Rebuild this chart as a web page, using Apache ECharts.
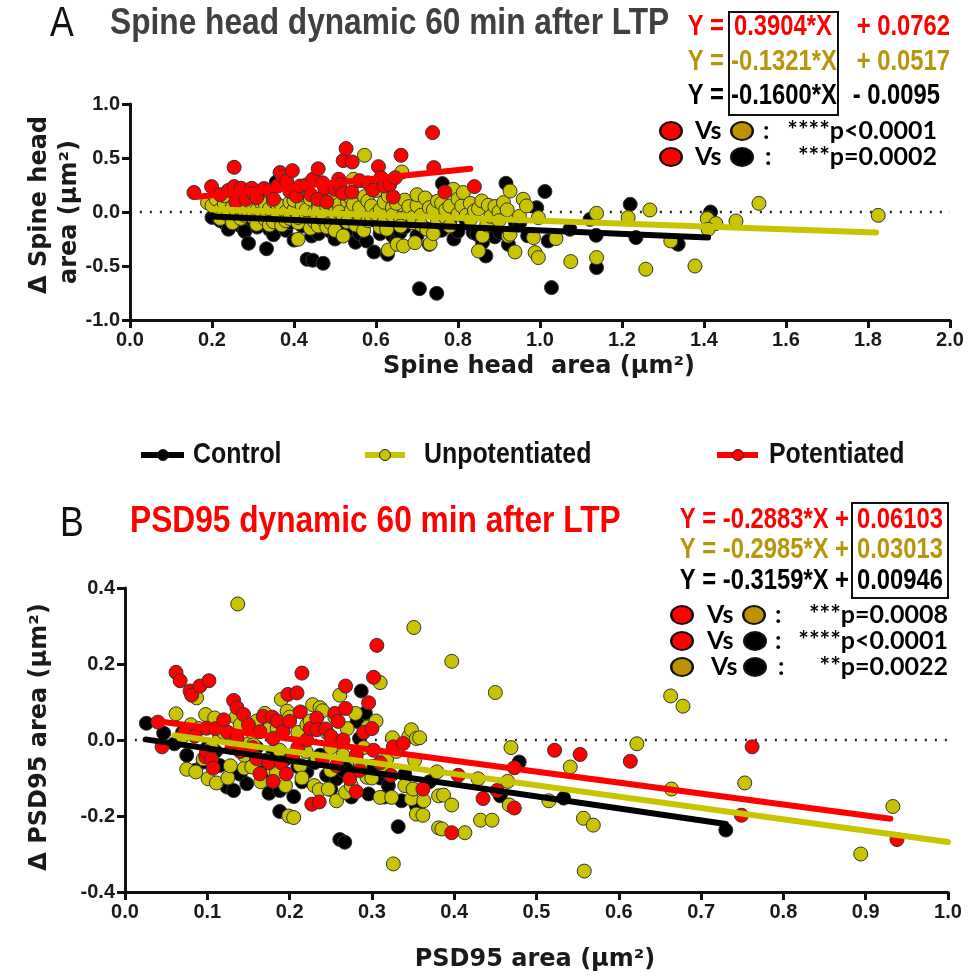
<!DOCTYPE html>
<html><head><meta charset="utf-8">
<script src="https://cdn.jsdelivr.net/npm/echarts@6/dist/echarts.min.js"></script>
<style>html,body{margin:0;padding:0;background:#fff}#c{width:970px;height:978px}</style>
</head><body><div id="c"></div>
<script>
// ---------- Panel A : Spine head (x = area µm², y = Δ area µm²) ----------
const spineControl = [[0.2,-0.05],[0.21,-0.02],[0.22,-0.08],[0.23,-0.1],[0.24,-0.16],[0.25,-0.06],[0.26,-0.02],[0.27,-0.13],[0.28,-0.18],[0.289,-0.29],[0.3,-0.08],[0.31,-0.14],[0.32,-0.04],[0.333,-0.34],[0.34,-0.16],[0.35,-0.21],[0.357,0.278],[0.37,-0.07],[0.38,-0.17],[0.39,-0.1],[0.4,-0.26],[0.41,-0.03],[0.42,-0.13],[0.432,-0.438],[0.443,-0.222],[0.446,-0.447],[0.46,-0.2],[0.471,-0.475],[0.48,-0.12],[0.488,-0.176],[0.5,-0.05],[0.5,-0.25],[0.52,-0.1],[0.53,-0.18],[0.54,-0.15],[0.55,-0.28],[0.56,-0.2],[0.57,-0.1],[0.577,-0.268],[0.595,-0.37],[0.6,-0.08],[0.61,-0.2],[0.62,-0.12],[0.628,-0.392],[0.64,-0.22],[0.65,-0.27],[0.659,-0.19],[0.67,-0.14],[0.68,-0.06],[0.7,-0.22],[0.706,-0.71],[0.712,0.118],[0.72,-0.15],[0.73,-0.3],[0.74,0.087],[0.748,-0.753],[0.76,-0.17],[0.762,0.263],[0.78,-0.1],[0.79,-0.25],[0.8,-0.18],[0.81,0.05],[0.82,-0.08],[0.837,-0.19],[0.846,-0.206],[0.86,-0.28],[0.868,-0.407],[0.88,-0.12],[0.89,-0.23],[0.902,-0.19],[0.917,0.266],[0.923,-0.3],[0.94,-0.1],[0.951,-0.098],[0.97,-0.22],[0.992,0.04],[1.012,0.19],[1.02,-0.268],[1.028,-0.70],[1.073,-0.16],[1.122,-0.068],[1.137,-0.216],[1.138,-0.515],[1.22,0.071],[1.234,-0.237],[1.337,-0.299],[1.416,0.0],[1.41,-0.05]];
const spineUnpot = [[0.189,0.087],[0.2,0.06],[0.21,0.12],[0.22,0.02],[0.22,-0.06],[0.23,0.08],[0.23,0.15],[0.24,-0.03],[0.25,0.05],[0.25,-0.1],[0.26,0.11],[0.26,0.0],[0.27,-0.06],[0.27,0.03],[0.28,0.08],[0.28,-0.03],[0.29,-0.02],[0.29,0.13],[0.3,0.05],[0.3,-0.05],[0.309,-0.114],[0.31,0.12],[0.31,0.02],[0.32,0.0],[0.32,0.09],[0.33,-0.07],[0.33,0.07],[0.34,0.03],[0.34,-0.12],[0.35,-0.09],[0.35,0.1],[0.36,-0.03],[0.36,0.07],[0.37,0.05],[0.37,-0.12],[0.38,0.0],[0.38,-0.08],[0.39,0.09],[0.39,-0.06],[0.4,0.02],[0.4,0.11],[0.41,-0.253],[0.41,-0.1],[0.41,-0.05],[0.42,0.06],[0.42,0.16],[0.43,-0.04],[0.43,0.02],[0.44,0.12],[0.44,-0.15],[0.45,0.0],[0.45,-0.09],[0.459,-0.13],[0.46,0.08],[0.46,0.03],[0.47,-0.07],[0.47,0.13],[0.48,0.04],[0.48,-0.14],[0.49,-0.1],[0.49,0.14],[0.5,-0.02],[0.5,0.05],[0.5,-0.17],[0.51,0.07],[0.51,0.0],[0.52,-0.222],[0.52,-0.05],[0.53,0.1],[0.53,-0.09],[0.54,0.02],[0.54,0.12],[0.545,0.303],[0.545,0.071],[0.55,-0.12],[0.56,-0.03],[0.56,0.04],[0.57,-0.17],[0.572,0.525],[0.572,0.142],[0.58,-0.08],[0.58,0.1],[0.589,0.056],[0.59,-0.06],[0.6,-0.02],[0.6,0.2],[0.61,-0.14],[0.61,0.02],[0.62,-0.09],[0.626,-0.16],[0.62,0.09],[0.63,-0.352],[0.63,0.15],[0.64,0.04],[0.64,-0.03],[0.65,0.08],[0.652,-0.299],[0.663,0.37],[0.66,-0.06],[0.66,-0.13],[0.667,-0.315],[0.67,0.11],[0.68,0.0],[0.68,0.05],[0.69,-0.1],[0.69,-0.05],[0.695,-0.284],[0.7,0.06],[0.7,0.16],[0.71,-0.03],[0.71,-0.12],[0.724,-0.16],[0.72,0.13],[0.732,-0.293],[0.73,0.04],[0.74,0.02],[0.74,-0.2],[0.75,-0.09],[0.75,0.1],[0.76,0.08],[0.77,-0.05],[0.77,0.02],[0.78,0.056],[0.78,-0.13],[0.789,0.21],[0.8,-0.02],[0.8,0.12],[0.809,0.056],[0.813,0.18],[0.82,-0.03],[0.83,-0.07],[0.83,0.08],[0.84,0.01],[0.85,-0.361],[0.85,0.03],[0.858,0.102],[0.86,-0.222],[0.87,-0.12],[0.874,0.062],[0.88,-0.04],[0.89,0.05],[0.9,0.0],[0.9,-0.08],[0.911,0.087],[0.92,0.02],[0.923,-0.222],[0.927,0.194],[0.927,-0.206],[0.939,-0.37],[0.95,-0.04],[0.959,0.118],[0.967,0.056],[0.984,-0.237],[0.988,-0.376],[0.996,-0.422],[0.996,-0.052],[1.039,-0.246],[1.075,-0.459],[1.138,-0.012],[1.138,-0.422],[1.215,-0.052],[1.268,0.019],[1.258,-0.53],[1.319,-0.268],[1.378,-0.50],[1.408,-0.061],[1.429,-0.107],[1.41,-0.16],[1.478,-0.083],[1.534,0.08],[1.825,-0.031]];
const spinePot = [[0.156,0.18],[0.199,0.235],[0.22,0.16],[0.24,0.2],[0.254,0.414],[0.254,0.235],[0.258,0.093],[0.271,0.22],[0.283,0.118],[0.297,0.22],[0.3,0.17],[0.309,0.133],[0.327,0.217],[0.34,0.2],[0.35,0.118],[0.36,0.24],[0.366,0.365],[0.372,0.328],[0.382,0.287],[0.39,0.19],[0.396,0.383],[0.406,0.148],[0.415,0.24],[0.43,0.25],[0.441,0.161],[0.446,0.303],[0.459,0.40],[0.458,0.118],[0.47,0.27],[0.475,0.22],[0.48,0.093],[0.5,0.21],[0.509,0.303],[0.512,0.256],[0.519,0.173],[0.52,0.476],[0.527,0.587],[0.541,0.185],[0.542,0.463],[0.56,0.29],[0.58,0.27],[0.592,0.204],[0.606,0.42],[0.612,0.318],[0.62,0.24],[0.634,0.256],[0.642,0.139],[0.647,0.318],[0.661,0.525],[0.738,0.735],[0.741,0.411],[0.768,0.185],[0.84,0.235]];
const spineSlopes = [-0.1600, -0.1321, 0.3904];      // control, unpotentiated, potentiated
const spineIntercepts = [-0.0095, 0.0517, 0.0762];
const spineFitRanges = [[0.2,1.41],[0.2,1.82],[0.16,0.83]];
const spineXTicks = ['0.0','0.2','0.4','0.6','0.8','1.0','1.2','1.4','1.6','1.8','2.0'];
const spineYTicks = ['-1.0','-0.5','0.0','0.5','1.0'];

// ---------- Panel B : PSD95 ----------
const psdControl = [[0.026,0.044],[0.047,0.018],[0.06,-0.01],[0.07,0.02],[0.075,-0.04],[0.085,-0.08],[0.095,-0.058],[0.1,-0.02],[0.11,-0.03],[0.115,-0.067],[0.124,-0.124],[0.132,-0.133],[0.14,-0.09],[0.148,-0.115],[0.156,-0.049],[0.16,-0.02],[0.168,-0.084],[0.175,-0.14],[0.18,-0.031],[0.188,-0.188],[0.188,-0.133],[0.195,-0.05],[0.205,-0.149],[0.21,-0.07],[0.215,-0.11],[0.221,-0.084],[0.23,-0.06],[0.237,-0.04],[0.245,-0.093],[0.25,-0.13],[0.257,-0.102],[0.261,-0.262],[0.265,-0.08],[0.267,-0.269],[0.27,-0.06],[0.275,-0.15],[0.282,0.049],[0.285,0.004],[0.287,0.129],[0.292,0.071],[0.296,-0.142],[0.3,-0.07],[0.31,-0.1],[0.315,-0.15],[0.32,-0.12],[0.332,-0.228],[0.336,-0.16],[0.34,-0.09],[0.354,-0.173],[0.37,-0.11],[0.456,-0.147],[0.479,-0.058],[0.533,-0.153],[0.73,-0.237]];
const psdUnpot = [[0.062,0.069],[0.07,0.01],[0.075,-0.077],[0.08,0.04],[0.086,-0.084],[0.087,0.111],[0.09,0.03],[0.095,-0.05],[0.098,0.067],[0.101,-0.102],[0.105,-0.02],[0.109,0.058],[0.111,-0.113],[0.115,0.01],[0.12,0.02],[0.125,-0.1],[0.128,-0.068],[0.135,0.06],[0.137,0.358],[0.14,0.04],[0.145,-0.074],[0.145,-0.04],[0.15,-0.01],[0.154,-0.071],[0.155,0.02],[0.156,-0.013],[0.16,0.05],[0.165,-0.11],[0.17,0.07],[0.172,-0.053],[0.175,0.03],[0.18,-0.08],[0.184,-0.086],[0.185,0.03],[0.188,-0.027],[0.19,0.107],[0.195,-0.12],[0.197,0.076],[0.199,-0.2],[0.2,0.06],[0.205,-0.204],[0.21,0.02],[0.213,-0.067],[0.215,-0.1],[0.22,-0.03],[0.221,0.04],[0.225,0.05],[0.228,0.093],[0.23,-0.12],[0.233,-0.049],[0.236,-0.131],[0.237,0.085],[0.24,0.077],[0.245,0.02],[0.247,-0.129],[0.25,-0.02],[0.25,-0.08],[0.255,0.06],[0.257,-0.16],[0.261,0.118],[0.261,-0.004],[0.265,-0.04],[0.268,-0.138],[0.27,0.03],[0.275,-0.12],[0.28,-0.05],[0.28,0.07],[0.286,-0.067],[0.29,-0.02],[0.294,-0.098],[0.295,0.034],[0.3,-0.1],[0.305,0.05],[0.31,0.151],[0.31,-0.151],[0.315,-0.08],[0.318,-0.049],[0.324,-0.151],[0.325,0.006],[0.326,-0.326],[0.33,-0.03],[0.34,-0.12],[0.345,0.01],[0.348,0.027],[0.348,-0.155],[0.35,-0.129],[0.351,0.296],[0.352,-0.053],[0.354,0.004],[0.354,-0.195],[0.358,0.006],[0.362,-0.198],[0.363,-0.16],[0.379,-0.084],[0.381,-0.231],[0.381,-0.147],[0.385,-0.234],[0.387,-0.145],[0.397,0.207],[0.397,-0.171],[0.413,-0.244],[0.429,-0.102],[0.432,-0.211],[0.446,-0.211],[0.45,0.125],[0.465,-0.109],[0.467,-0.171],[0.469,-0.02],[0.515,-0.16],[0.541,-0.071],[0.557,-0.206],[0.558,-0.345],[0.569,-0.224],[0.622,-0.01],[0.663,0.116],[0.664,-0.129],[0.678,0.089],[0.753,-0.113],[0.894,-0.30],[0.933,-0.175]];
const psdPot = [[0.04,0.047],[0.045,-0.018],[0.062,0.178],[0.067,0.156],[0.073,0.022],[0.079,0.129],[0.081,0.118],[0.085,0.01],[0.091,0.142],[0.098,-0.044],[0.099,0.031],[0.099,-0.031],[0.102,0.156],[0.105,-0.05],[0.107,-0.074],[0.11,0.03],[0.12,0.053],[0.125,0.02],[0.13,-0.02],[0.132,0.104],[0.136,0.085],[0.136,0.004],[0.14,-0.03],[0.144,0.067],[0.15,0.04],[0.155,-0.02],[0.16,-0.049],[0.164,0.022],[0.164,-0.089],[0.168,0.062],[0.175,-0.06],[0.179,0.06],[0.18,0.004],[0.18,-0.109],[0.185,0.05],[0.19,-0.06],[0.192,0.022],[0.196,-0.089],[0.198,0.12],[0.2,0.049],[0.204,-0.04],[0.209,0.124],[0.21,-0.02],[0.213,0.074],[0.215,0.176],[0.221,0.0],[0.225,0.03],[0.227,-0.169],[0.233,0.058],[0.233,0.027],[0.236,-0.163],[0.24,-0.05],[0.244,0.029],[0.25,0.01],[0.255,0.07],[0.257,-0.067],[0.259,0.049],[0.265,0.0],[0.268,0.142],[0.268,0.083],[0.273,-0.102],[0.281,-0.136],[0.281,-0.04],[0.285,-0.08],[0.29,0.02],[0.296,0.098],[0.3,0.03],[0.302,0.165],[0.302,-0.027],[0.306,0.249],[0.31,-0.06],[0.323,-0.093],[0.326,-0.018],[0.338,-0.009],[0.362,-0.129],[0.397,-0.244],[0.405,-0.093],[0.435,-0.154],[0.452,-0.133],[0.473,-0.073],[0.473,-0.179],[0.522,-0.027],[0.553,-0.038],[0.614,-0.056],[0.749,-0.198],[0.762,-0.018],[0.938,-0.262]];
const psdSlopes = [-0.3159, -0.2985, -0.2883];
const psdIntercepts = [0.00946, 0.03013, 0.06103];
const psdFitRanges = [[0.025,0.73],[0.06,1.0],[0.04,0.93]];
const psdXTicks = ['0.0','0.1','0.2','0.3','0.4','0.5','0.6','0.7','0.8','0.9','1.0'];
const psdYTicks = ['-0.4','-0.2','0.0','0.2','0.4'];

const groupNames = ['Control','Unpotentiated','Potentiated'];
const groupColors = ['#000000','#c8c400','#ff0000'];

const chart = echarts.init(document.getElementById('c'), null, {renderer:'canvas'});

function axisCfg(idx, min, max, step){
  return {gridIndex:idx, type:'value', min, max, interval:step,
    axisLine:{show:true,onZero:false,lineStyle:{color:'#111',width:3}},
    axisTick:{show:true,length:8,lineStyle:{color:'#111',width:3}},
    axisLabel:{show:true,showMinLabel:true,showMaxLabel:true,margin:10,fontFamily:'"Liberation Sans", Arial, sans-serif',fontWeight:'bold',fontSize:20,color:'#1a1a1a',formatter:v=>v.toFixed(1)},
    splitLine:{show:false}};
}

const series = [];
function addPanel(idx, groups, slopes, intercepts, ranges, xmax){
  series.push({type:'line', xAxisIndex:idx, yAxisIndex:idx, data:[[0.012*xmax,0],[xmax,0]], symbol:'none', silent:true,
    lineStyle:{color:'#222',width:2.5,type:[2,8]}, z:1});
  groups.forEach((g,i)=>{
    series.push({type:'scatter', name:groupNames[i], xAxisIndex:idx, yAxisIndex:idx, data:g, symbol:'circle', symbolSize:14,
      itemStyle:{color:groupColors[i], borderColor:'#333', borderWidth:1, opacity:1}, z:2+i});
  });
  groups.forEach((g,i)=>{
    const r = ranges[i];
    series.push({type:'line', xAxisIndex:idx, yAxisIndex:idx, symbol:'none', silent:true,
      data:[[r[0], slopes[i]*r[0]+intercepts[i]],[r[1], slopes[i]*r[1]+intercepts[i]]],
      lineStyle:{color:groupColors[i], width:6, cap:'round'}, z:6+i});
  });
}
addPanel(0,[spineControl,spineUnpot,spinePot],spineSlopes,spineIntercepts,spineFitRanges,2);
addPanel(1,[psdControl,psdUnpot,psdPot],psdSlopes,psdIntercepts,psdFitRanges,1);

const NARROW = '"Liberation Sans", Arial, sans-serif';
function txt(x,y,text,opts){
  opts = opts||{};
  return {type:'text', x, y, rotation:opts.rot||0, scaleX:opts.sx||1, z:50,
    style:{text, font:(opts.weight||'bold')+' '+(opts.size||30)+'px '+(opts.family||NARROW), fill:opts.fill||'#000',
      textAlign:opts.align||'left', align:opts.align||'left', textVerticalAlign:'middle', verticalAlign:'middle'}};
}
function ell(cx,cy,color){
  return {type:'circle', x:cx, y:cy, scaleX:1.2, z:50, shape:{cx:0,cy:0,r:9}, style:{fill:color, stroke:'#111', lineWidth:2}};
}
const GOLDTXT = '#b8960c';
const GOLDDOT = '#bf9000';
const EQ = {size:29, sx:0.82};
const ST = {size:25, family:'Lato, "Open Sans", sans-serif'};
const AX = {size:24, family:'"DejaVu Sans", sans-serif', align:'center', fill:'#1a1a1a'};

const graphic = [
  // Panel A titles
  txt(50,24,'A',{weight:'normal',size:42,sx:0.85,fill:'#111'}),
  txt(110,24,'Spine head dynamic 60 min after LTP',{size:36,sx:0.88,fill:'#404040'}),
  // equations A
  txt(724,27,'Y =',Object.assign({fill:'#ff0000',align:'right'},EQ)),
  txt(734,27,'0.3904*X',Object.assign({fill:'#ff0000'},EQ)),
  txt(950,27,'+ 0.0762',Object.assign({fill:'#ff0000',align:'right'},EQ)),
  txt(724,62,'Y =',Object.assign({fill:GOLDTXT,align:'right'},EQ)),
  txt(731,62,'-0.1321*X',Object.assign({fill:GOLDTXT},EQ)),
  txt(950,62,'+ 0.0517',Object.assign({fill:GOLDTXT,align:'right'},EQ)),
  txt(724,96,'Y =',Object.assign({fill:'#000',align:'right'},EQ)),
  txt(731,96,'-0.1600*X',Object.assign({fill:'#000'},EQ)),
  txt(940,96,'- 0.0095',Object.assign({fill:'#000',align:'right'},EQ)),
  {type:'rect', z:50, shape:{x:729,y:12,width:109,height:103}, style:{fill:'none',stroke:'#111',lineWidth:2}},
  // stats A
  ell(671,131,'#ff0000'), txt(695,131,'Vs',ST), ell(742,131,GOLDDOT), txt(763,131,':',ST), txt(937,131,'****p<0.0001',Object.assign({align:'right'},ST)),
  ell(671,157,'#ff0000'), txt(695,157,'Vs',ST), ell(742,157,'#000'), txt(765,157,':',ST), txt(937,157,'***p=0.0002',Object.assign({align:'right'},ST)),
  // axis names A
  txt(539,367,'Spine head  area (µm²)',AX),
  txt(40,205,'Δ Spine head',Object.assign({rot:Math.PI/2},AX)),
  txt(70,212,'area (µm²)',Object.assign({rot:Math.PI/2},AX)),
  // legend
  {type:'line', z:50, shape:{x1:141,y1:455,x2:184,y2:455}, style:{stroke:'#000',lineWidth:6}},
  {type:'circle', z:51, shape:{cx:163,cy:455,r:5.5}, style:{fill:'#000',stroke:'#222',lineWidth:1}},
  txt(193,455,'Control',{size:30,sx:0.83,fill:'#111'}),
  {type:'line', z:50, shape:{x1:365,y1:455,x2:405,y2:455}, style:{stroke:'#c8c400',lineWidth:6}},
  {type:'circle', z:51, shape:{cx:385,cy:455,r:5.5}, style:{fill:'#c8c400',stroke:'#222',lineWidth:1}},
  txt(424,455,'Unpotentiated',{size:30,sx:0.83,fill:'#111'}),
  {type:'line', z:50, shape:{x1:717,y1:455,x2:758,y2:455}, style:{stroke:'#ff0000',lineWidth:6}},
  {type:'circle', z:51, shape:{cx:738,cy:455,r:5.5}, style:{fill:'#ff0000',stroke:'#222',lineWidth:1}},
  txt(769,455,'Potentiated',{size:30,sx:0.83,fill:'#111'}),
  // Panel B titles
  txt(60,524,'B',{weight:'normal',size:42,sx:0.85,fill:'#111'}),
  txt(130,522,'PSD95 dynamic 60 min after LTP',{size:36,sx:0.88,fill:'#ff0000'}),
  txt(849,520,'Y = -0.2883*X +',Object.assign({fill:'#ff0000',align:'right'},EQ)),
  txt(857,520,'0.06103',Object.assign({fill:'#ff0000'},EQ)),
  txt(849,550,'Y = -0.2985*X +',Object.assign({fill:GOLDTXT,align:'right'},EQ)),
  txt(857,550,'0.03013',Object.assign({fill:GOLDTXT},EQ)),
  txt(849,581,'Y = -0.3159*X +',Object.assign({fill:'#000',align:'right'},EQ)),
  txt(857,581,'0.00946',Object.assign({fill:'#000'},EQ)),
  {type:'rect', z:50, shape:{x:852,y:503,width:96,height:95}, style:{fill:'none',stroke:'#111',lineWidth:2}},
  // stats B
  ell(682,615,'#ff0000'), txt(707,615,'Vs',ST), ell(754,615,GOLDDOT), txt(775,615,':',ST), txt(948,615,'***p=0.0008',Object.assign({align:'right'},ST)),
  ell(682,641,'#ff0000'), txt(707,641,'Vs',ST), ell(755,641,'#000'), txt(775,641,':',ST), txt(948,641,'****p<0.0001',Object.assign({align:'right'},ST)),
  ell(682,667,GOLDDOT), txt(711,667,'Vs',ST), ell(755,667,'#000'), txt(778,667,':',ST), txt(948,667,'**p=0.0022',Object.assign({align:'right'},ST)),
  // axis names B
  txt(535,960,'PSD95 area (µm²)',AX),
  txt(40,737,'Δ PSD95 area (µm²)',Object.assign({rot:Math.PI/2},AX))
];

chart.setOption({
  animation:false,
  backgroundColor:'#fff',
  grid:[{left:130,top:104,width:820,height:216},{left:125,top:588,width:823,height:304}],
  xAxis:[axisCfg(0,0,2,0.2), axisCfg(1,0,1,0.1)],
  yAxis:[axisCfg(0,-1,1,0.5), axisCfg(1,-0.4,0.4,0.2)],
  series,
  graphic
});
</script></body></html>
